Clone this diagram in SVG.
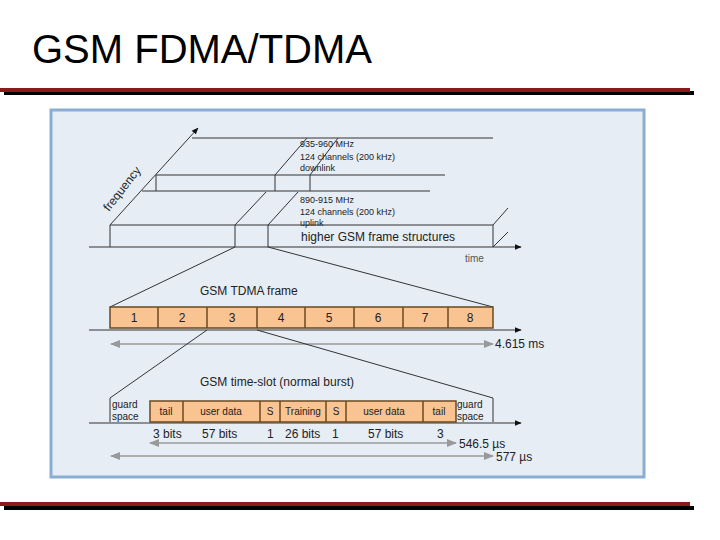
<svg xmlns="http://www.w3.org/2000/svg" width="720" height="540" viewBox="0 0 720 540">
<defs>
<marker id="ab" viewBox="0 0 10 10" refX="9" refY="5" markerWidth="7" markerHeight="7" orient="auto"><path d="M0,1 L10,5 L0,9 Z" fill="#111"/></marker>
<marker id="ag" viewBox="0 0 10 10" refX="9" refY="5" markerWidth="7" markerHeight="7" orient="auto-start-reverse"><path d="M0,1 L10,5 L0,9 Z" fill="#999"/></marker>
</defs>
<style>
text{font-family:"Liberation Sans",Arial,sans-serif;fill:#222}
.l{stroke:#333;stroke-width:1;fill:none}
.g{stroke:#999;stroke-width:1.5;fill:none}
.b{fill:#f9c491;stroke:#6b4a1e;stroke-width:1.5}
.s{font-size:9px}
.t{font-size:10px}
.m{font-size:12px}
.c{text-anchor:middle}
</style>
<rect width="720" height="540" fill="#fff"/>
<text x="32" y="63" font-size="40" style="fill:#000">GSM FDMA/TDMA</text>
<rect x="4" y="91" width="690" height="4" fill="#000"/>
<rect x="0" y="88" width="690" height="4" fill="#8b1a1a"/>
<rect x="4" y="506" width="690" height="4" fill="#000"/>
<rect x="0" y="502" width="690" height="4" fill="#8b1a1a"/>
<rect x="51" y="110" width="593" height="367" fill="#e6edf5" stroke="#8aaed2" stroke-width="3"/>
<g id="connectors">
<path class="l" d="M89,247 H521" marker-end="url(#ab)"/>
<path class="l" d="M110,225 L198,128" marker-end="url(#ab)"/>
<path class="l" d="M192,138 H493 M156,175 H445 M142,191 H430 M156,175 V191 M275,175 V191 M310,175 V191 M275,175 L307,138 M310,175 L338,138"/>
<path class="l" d="M110,225 H493 M110,225 V247 M235,225 V247 M268,225 V247 M493,225 V247 M235,225 L266,192 M268,225 L298,192 M493,225 L508,208 M493,247 L508,232"/>
<path class="l" d="M235,247 L110,307 M268,247 L493,307"/>
<path class="l" d="M89,330 H521" marker-end="url(#ab)"/>
<path class="g" d="M111,344 H493" marker-start="url(#ag)" marker-end="url(#ag)"/>
<path class="l" d="M207,330 L110,398 M257,330 L493,398 M110,398 V422 M493,398 V422"/>
<path class="l" d="M89,423 H521" marker-end="url(#ab)"/>
<path class="g" d="M150,443 H456" marker-start="url(#ag)" marker-end="url(#ag)"/>
<path class="g" d="M111,456 H493" marker-start="url(#ag)" marker-end="url(#ag)"/>
</g>
<text class="m" transform="translate(109,212) rotate(-52)">frequency</text>
<text class="s" x="300" y="147">935-960 MHz</text>
<text class="s" x="300" y="160">124 channels (200 kHz)</text>
<text class="s" x="300" y="171">downlink</text>
<text class="s" x="300" y="203">890-915 MHz</text>
<text class="s" x="300" y="215">124 channels (200 kHz)</text>
<text class="s" x="300" y="226">uplink</text>
<text class="m" x="301" y="241">higher GSM frame structures</text>
<text class="t" x="465" y="262" style="fill:#555">time</text>
<text class="m" x="200" y="295">GSM TDMA frame</text>
<g id="frame">
<rect class="b" x="110" y="307" width="383" height="21"/>
<path stroke="#6b4a1e" stroke-width="1.5" d="M158,307V328M207,307V328M257,307V328M305,307V328M354,307V328M403,307V328M448,307V328"/>
<text x="134" y="322" class="m c">1</text><text x="182" y="322" class="m c">2</text><text x="232" y="322" class="m c">3</text><text x="281" y="322" class="m c">4</text><text x="329" y="322" class="m c">5</text><text x="378" y="322" class="m c">6</text><text x="425" y="322" class="m c">7</text><text x="470" y="322" class="m c">8</text>
</g>
<text class="m" x="495" y="348">4.615 ms</text>
<text class="m" x="200" y="386">GSM time-slot (normal burst)</text>
<g id="burst">
<rect class="b" x="150" y="401" width="306" height="21"/>
<path stroke="#6b4a1e" stroke-width="1.5" d="M183,401V422M260,401V422M280,401V422M326,401V422M346,401V422M423,401V422"/>
<text class="t c" x="166" y="415">tail</text>
<text class="t c" x="221" y="415">user data</text>
<text class="t c" x="270" y="415">S</text>
<text class="t c" x="303" y="415">Training</text>
<text class="t c" x="336" y="415">S</text>
<text class="t c" x="384" y="415">user data</text>
<text class="t c" x="439" y="415">tail</text>
</g>
<text class="t" x="112" y="408">guard</text><text class="t" x="112" y="420">space</text>
<text class="t" x="457" y="408">guard</text><text class="t" x="457" y="420">space</text>
<text class="m" x="153" y="438">3 bits</text><text class="m" x="202" y="438">57 bits</text><text class="m" x="267" y="438">1</text><text class="m" x="285" y="438">26 bits</text><text class="m" x="332" y="438">1</text><text class="m" x="368" y="438">57 bits</text><text class="m" x="437" y="438">3</text>
<text class="m" x="459" y="448">546.5 µs</text>
<text class="m" x="496" y="461">577 µs</text>
</svg>
